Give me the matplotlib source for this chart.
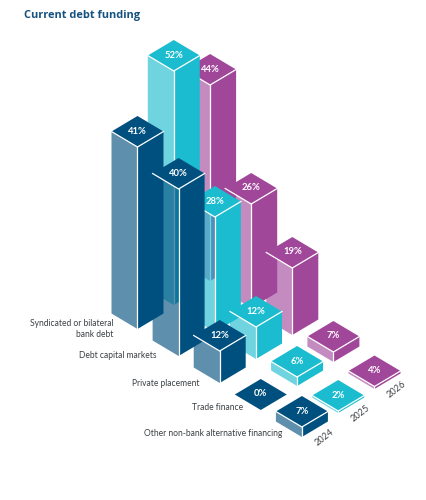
import numpy as np
import matplotlib
matplotlib.use('Agg')
import matplotlib.pyplot as plt
from matplotlib.patches import Polygon

categories = ['Syndicated or bilateral\nbank debt', 'Debt capital markets', 'Private placement',
              'Trade finance', 'Other non-bank alternative financing']
years = ['2024', '2025', '2026']
values_2024 = [41, 40, 12, 0, 7]
values_2025 = [52, 28, 12, 6, 2]
values_2026 = [44, 26, 19, 7, 4]

# the bars are not linear in the source, so the height scale goes through these knots
scale_values = [0, 2, 4, 6, 7, 12, 19, 26, 28, 40, 41, 44, 52]
scale_pixels = [0, 2, 2.5, 9, 10, 32, 67, 104, 115, 167, 182, 196, 234]

colors = ['#00507f', '#1bbccf', '#a1479a']
FONT = ['Lato', 'DejaVu Sans']
TEXT = '#3c4044'

# isometric grid in pixels
ORIGIN = (137.5, 329)
CAT_STEP = (41.1, 27)
YEAR_STEP = (36.3, -24)
HW, HH = 26, 15.5

# label offset from the foot of the 2024 bar of each row
label_dx = [-24, -22, -20, -18, -20]
label_dy = [0, 0, 0.5, -2.5, -3]


def base_point(cat, year):
    return (ORIGIN[0] + cat * CAT_STEP[0] + year * YEAR_STEP[0],
            ORIGIN[1] + cat * CAT_STEP[1] + year * YEAR_STEP[1])


def draw_bar(ax, cat, year, value, z):
    x, y = base_point(cat, year)
    h = np.interp(value, scale_values, scale_pixels)
    color = colors[year]
    top = y - h
    if h > 0:
        ax.add_patch(Polygon([(x - HW, top - HH), (x, top), (x, y), (x - HW, y - HH)],
                             facecolor=color, alpha=0.63, edgecolor='none', zorder=z))
        ax.add_patch(Polygon([(x, top), (x + HW, top - HH), (x + HW, y - HH), (x, y)],
                             facecolor=color, edgecolor='none', zorder=z))
    ax.add_patch(Polygon([(x, top), (x + HW, top - HH), (x, top - 2 * HH), (x - HW, top - HH)],
                         facecolor=color, edgecolor='none', zorder=z))
    if h > 0:
        ax.plot([x - HW, x, x + HW], [top - HH, top, top - HH], color='white', lw=0.9,
                solid_joinstyle='miter', zorder=z)
        ax.plot([x, x], [top, y], color='white', lw=0.9, zorder=z)


def main():
    fig = plt.figure(figsize=(4.27, 5), dpi=100)
    ax = fig.add_axes([0, 0, 1, 1])
    ax.set_xlim(0, 427)
    ax.set_ylim(500, 0)
    ax.axis('off')

    series = [values_2024, values_2025, values_2026]
    bars = []
    for year, vals in enumerate(series):
        for cat, val in enumerate(vals):
            bars.append((base_point(cat, year)[1], cat, year, val))
    # back to front
    bars.sort(key=lambda b: b[0])
    for z, (_, cat, year, val) in enumerate(bars):
        draw_bar(ax, cat, year, val, z + 1)

    for _, cat, year, val in bars:
        x, y = base_point(cat, year)
        h = np.interp(val, scale_values, scale_pixels)
        ax.text(x, y - h - HH - 0.5, '%d%%' % val, color='white', fontsize=6.8, fontweight='bold',
                family=FONT, ha='center', va='center', zorder=50)

    for cat, name in enumerate(categories):
        x, y = base_point(cat, 0)
        ax.text(x + label_dx[cat], y + label_dy[cat], name, color=TEXT, fontsize=6.15, family=FONT,
                ha='right', va='center', linespacing=1.3, zorder=50)

    for year, name in enumerate(years):
        x, y = base_point(4, year)
        ax.text(x + 22, y, name, color=TEXT, fontsize=6.6, family=FONT, rotation=38,
                ha='center', va='center', rotation_mode='anchor', zorder=50)

    ax.text(24, 15.5, 'Current debt funding', color='#14527f', fontsize=7.9, fontweight='bold',
            family=['Open Sans', 'DejaVu Sans'], ha='left', va='center')

    fig.savefig('out.png', dpi=100)


if __name__ == '__main__':
    main()
